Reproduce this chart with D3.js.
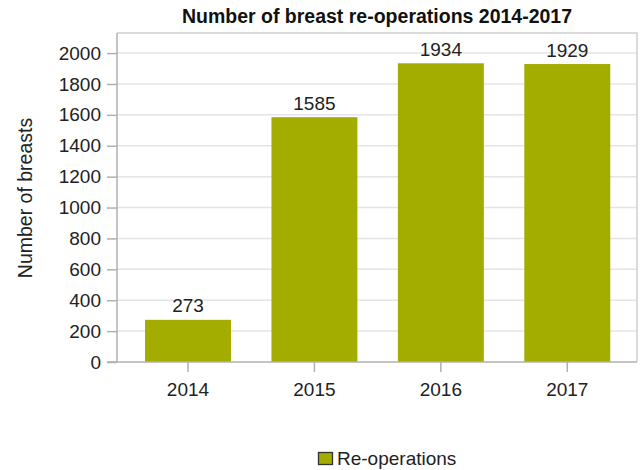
<!DOCTYPE html>
<html><head><meta charset="utf-8">
<script src="https://cdn.jsdelivr.net/npm/d3@7"></script>
<style>body{margin:0;background:#fff}svg{display:block;font-family:"Liberation Sans",Arial,sans-serif}</style>
</head><body>
<svg id="c" width="641" height="470"></svg>
<script>
const categories = ["2014","2015","2016","2017"];
const values = [273,1585,1934,1929];
const yTicks = [0,200,400,600,800,1000,1200,1400,1600,1800,2000];
const title = "Number of breast re-operations 2014-2017";
const yLabel = "Number of breasts";
const seriesName = "Re-operations";

const svg = d3.select("#c");
const L=117, R=637, T=33, B=362;
const color="#a3ad00";
const FS=19;
const y = d3.scaleLinear().domain([0,2130]).range([B,T]);
const x = d3.scaleBand().domain(categories).range([124.8,630.5]).paddingInner(0.32).paddingOuter(0.16);

// gridlines
svg.append("g").selectAll("line").data(yTicks.filter(d=>d>0)).join("line")
  .attr("x1",L).attr("x2",R).attr("y1",d=>y(d)).attr("y2",d=>y(d))
  .attr("stroke","#e4e4e4").attr("stroke-width",1.5);
// frame top/right
svg.append("path").attr("d",`M${L},${T}H${R}V${B}`).attr("fill","none").attr("stroke","#cfcfcf").attr("stroke-width",1.5);

// bars
svg.append("g").selectAll("rect").data(values).join("rect")
  .attr("x",(d,i)=>x(categories[i])).attr("width",x.bandwidth())
  .attr("y",d=>y(d)).attr("height",d=>B-y(d)).attr("fill",color);
svg.append("g").selectAll("text").data(values).join("text")
  .attr("x",(d,i)=>x(categories[i])+x.bandwidth()/2).attr("y",d=>y(d)-7.5)
  .attr("text-anchor","middle").attr("font-size",FS).attr("fill","#222").text(d=>d);

// y axis
const ya = svg.append("g").attr("transform",`translate(${L},0)`)
  .call(d3.axisLeft(y).tickValues(yTicks).tickFormat(d3.format("d")).tickSize(10).tickPadding(6).tickSizeOuter(0));
ya.attr("font-size",FS).attr("font-family","Liberation Sans, Arial, sans-serif");
ya.select(".domain").attr("stroke","#b0b0b0").attr("stroke-width",1.5).attr("d",`M0,${T}V${B}`);
ya.selectAll(".tick line").attr("stroke","#b0b0b0").attr("stroke-width",1.5);
ya.selectAll("text").attr("fill","#222");

// x axis
const xa = svg.append("g").attr("transform",`translate(0,${B})`)
  .call(d3.axisBottom(x).tickSize(10).tickPadding(11).tickSizeOuter(0));
xa.attr("font-size",FS).attr("font-family","Liberation Sans, Arial, sans-serif");
xa.select(".domain").attr("stroke","#b0b0b0").attr("stroke-width",1.5).attr("d",`M${L-10},0H${R}`);
xa.selectAll(".tick line").attr("stroke","#b0b0b0").attr("stroke-width",1.5);
xa.selectAll("text").attr("fill","#222");

// title
svg.append("text").attr("x",(L+R)/2).attr("y",23).attr("text-anchor","middle")
  .attr("font-size",19.5).attr("font-weight","bold").attr("fill","#111").text(title);
// y label
svg.append("text").attr("transform",`translate(32,198) rotate(-90)`).attr("text-anchor","middle")
  .attr("font-size",19.5).attr("fill","#222").text(yLabel);
// legend
svg.append("rect").attr("x",318.5).attr("y",452.5).attr("width",14).attr("height",12)
  .attr("fill",color).attr("stroke","#333").attr("stroke-width",1.3);
svg.append("text").attr("x",337).attr("y",465).attr("font-size",FS).attr("fill","#222").text(seriesName);
</script>
</body></html>
